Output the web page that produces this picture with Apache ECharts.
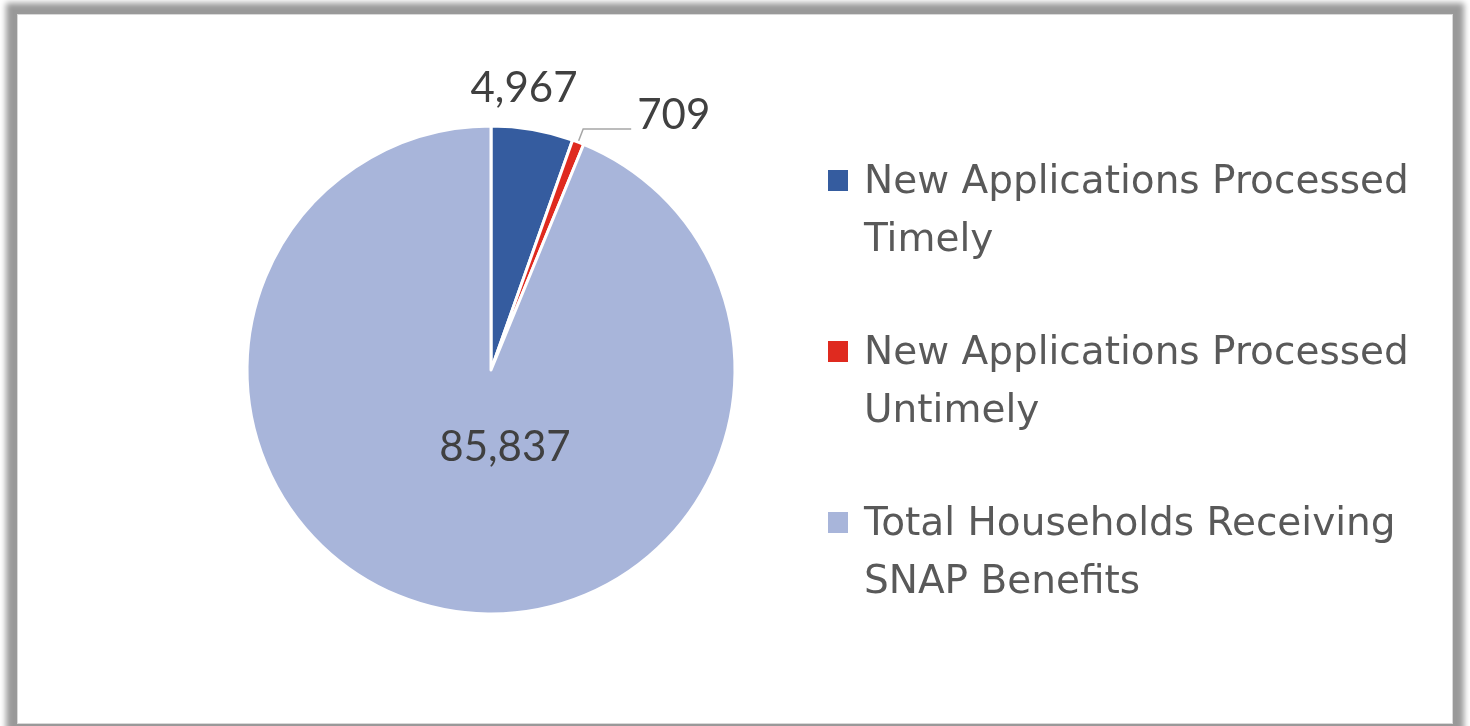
<!DOCTYPE html>
<html>
<head>
<meta charset="utf-8">
<script src="https://cdn.jsdelivr.net/npm/echarts@6/dist/echarts.min.js"></script>
<style>
  html, body { margin: 0; padding: 0; background: #ffffff; width: 1470px; height: 726px; overflow: hidden; }
  #frame { position: absolute; left: 17px; top: 14px; width: 1434px; height: 708px; border: 1px solid #d9d9d9; background: #fff; box-shadow: 0 0 6px 11px rgba(0,0,0,0.4); }
  #chart { position: absolute; left: 0; top: 0; width: 1470px; height: 726px; }
</style>
</head>
<body>
<div id="frame"></div>
<div id="chart"></div>
<script>
const categories = ['New Applications Processed\nTimely', 'New Applications Processed\nUntimely', 'Total Households Receiving\nSNAP Benefits'];
const values = [4967, 709, 85837];
const colors = ['#355C9F', '#DF2A1F', '#A8B5DA'];

const chart = echarts.init(document.getElementById('chart'), null, { renderer: 'canvas' });

const fmt = v => v.toLocaleString('en-US');

const iconPath = 'path://M0,0h0.01v0.01h-0.01z M0,15h22v23h-22z M0,115.99h0.01v0.01h-0.01z';

chart.setOption({
  backgroundColor: 'transparent',
  animation: false,
  legend: {
    orient: 'vertical',
    left: 826,
    top: 153,
    padding: 0,
    itemWidth: 22,
    itemHeight: 116,
    itemGap: 53,
    icon: iconPath,
    textStyle: {
      fontFamily: 'DejaVu Sans',
      fontSize: 39,
      color: '#595959',
      lineHeight: 58,
      padding: [0, 0, 0, 10]
    },
    data: categories
  },
  series: [{
    type: 'pie',
    center: [491, 370],
    radius: 244,
    startAngle: 90,
    clockwise: true,
    avoidLabelOverlap: false,
    itemStyle: { borderColor: '#ffffff', borderWidth: 3 },
    label: {
      fontFamily: 'Lato',
      fontSize: 42,
      color: '#404040',
      formatter: p => fmt(p.value)
    },
    labelLine: { lineStyle: { color: '#a6a6a6', width: 1.5 } },
    labelLayout: function (params) {
      if (params.dataIndex === 0) return { x: 524, y: 88, align: 'center', verticalAlign: 'middle' };
      if (params.dataIndex === 2) return { x: 505, y: 447, align: 'center', verticalAlign: 'middle' };
      return {};
    },
    data: categories.map((c, i) => {
      const d = { name: c, value: values[i], itemStyle: { color: colors[i] } };
      if (i === 0) { d.labelLine = { show: false }; }
      if (i === 1) {
        d.labelLine = { show: true, length: 14, length2: 48 };
        d.label = { lineHeight: 28, distanceToLabelLine: 6, formatter: p => fmt(p.value) + '\n ' };
      }
      if (i === 2) { d.label = { position: 'inside' }; }
      return d;
    })
  }]
});
</script>
</body>
</html>
